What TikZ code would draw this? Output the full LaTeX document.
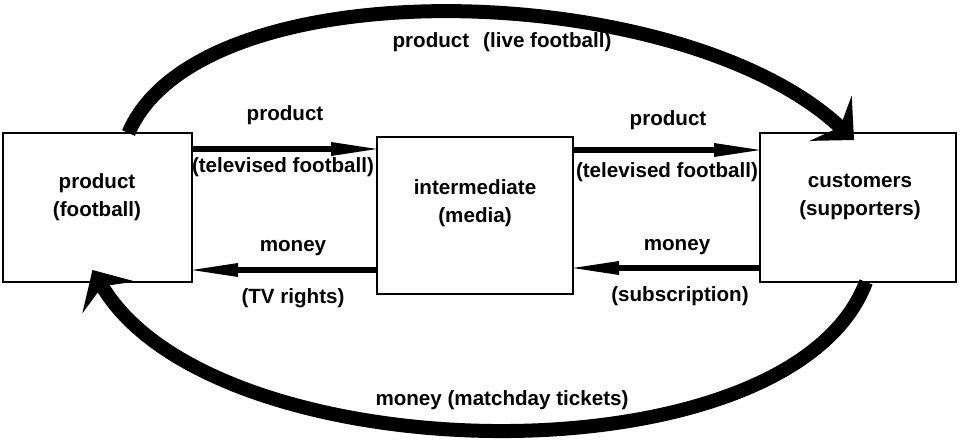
\documentclass[tikz,border=0pt]{standalone}
\usepackage{fontspec}
\setmainfont{Liberation Sans}
\usetikzlibrary{arrows.meta}
\begin{document}
\begin{tikzpicture}[x=1pt,y=-1pt,
  box/.style={draw, line width=1.5pt, inner sep=0pt, outer sep=0pt, anchor=north west},
  lbl/.style={font=\bfseries\fontsize{20.6}{28}\selectfont, inner sep=0pt, align=center},
  flow/.style={line width=6.5pt, -{Triangle[length=46pt,width=14pt,line width=0pt]}},
  big/.style={line width=14pt, -{Stealth[length=32pt,width=62pt,inset=13pt,line width=0pt]}}]
\useasboundingbox (0,0) rectangle (960,439);
% boxes
\node[box, minimum width=189pt, minimum height=149pt] (lb) at (3,133) {};
\node[box, minimum width=196pt, minimum height=157pt] (mb) at (377,137) {};
\node[box, minimum width=196pt, minimum height=149pt] (rb) at (760,133) {};
% box texts
\node[lbl] (lbt) at (97,197) {product\\(football)};
\node[lbl] (mbt) at (475,203) {intermediate\\(media)};
\node[lbl] (rbt) at (860,197) {customers\\(supporters)};
% straight flows
\coordinate (a1) at ([yshift=-16pt]lb.north east);
\draw[flow] (a1) -- (a1 -| mb.west);
\coordinate (a2) at ([yshift=12pt]lb.south east);
\draw[flow] (a2 -| mb.west) -- (a2);
\coordinate (a3) at ([yshift=-17pt]rb.north west);
\draw[flow] (a3 -| mb.east) -- (a3);
\coordinate (a4) at ([yshift=14pt]rb.south west);
\draw[flow] (a4) -- (a4 -| mb.east);
% flow labels
\node[lbl] (l1) at (285,115) {product};
\node[lbl] (l2) at (283,167) {(televised football)};
\node[lbl] (l3) at (293,248) {money};
\node[lbl] (l4) at (293,298) {(TV rights)};
\node[lbl] (r1) at (668,120) {product};
\node[lbl] (r2) at (667,172) {(televised football)};
\node[lbl] (r3) at (677,247) {money};
\node[lbl] (r4) at (680,296) {(subscription)};
% big arcs
\draw[big] ([xshift=31pt]lb.north) .. controls (200,-35) and (680,-22) .. ([xshift=94pt,yshift=-7pt]rb.north west);
\draw[big] ([xshift=8pt]rb.south) .. controls (790,485) and (215,475) .. ([xshift=-5pt,yshift=12pt]lb.south);
\node[lbl] (top) at (502,42) {product\hspace{14pt}(live football)};
\node[lbl] (bot) at (502,400) {money (matchday tickets)};
\end{tikzpicture}
\end{document}
